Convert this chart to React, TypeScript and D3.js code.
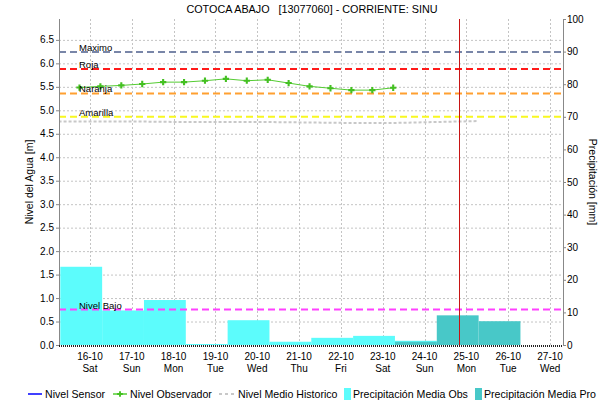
import React, { useRef, useEffect } from "react";
import * as d3 from "d3";

const titulo = "COTOCA ABAJO   [13077060] - CORRIENTE: SINU";

// eje de tiempo
const inicio = "15-10-2021 06:15";
const fin = "27-10-2021 07:25";
const dias = ["16-10-2021", "17-10-2021", "18-10-2021", "19-10-2021", "20-10-2021", "21-10-2021",
	"22-10-2021", "23-10-2021", "24-10-2021", "25-10-2021", "26-10-2021", "27-10-2021"];
const diasSemana = ["Sat", "Sun", "Mon", "Tue", "Wed", "Thu", "Fri", "Sat", "Sun", "Mon", "Tue", "Wed"];
const ahora = "24-10-2021 20:00";

// precipitacion [mm]
const precipObsDias = ["16-10-2021", "17-10-2021", "18-10-2021", "19-10-2021", "20-10-2021",
	"21-10-2021", "22-10-2021", "23-10-2021", "24-10-2021"];
const precipObs = [24.0, 10.6, 13.8, 0.3, 7.6, 1.0, 2.2, 2.8, 1.3];
const precipProDias = ["24-10-2021", "25-10-2021", "26-10-2021"];
const precipPro = [1.0, 9.1, 7.3];

// nivel observador [m]
const obsHoras = ["15-10-2021 18:00", "16-10-2021 06:00", "16-10-2021 18:00", "17-10-2021 06:00",
	"17-10-2021 18:00", "18-10-2021 06:00", "18-10-2021 18:00", "19-10-2021 06:00",
	"19-10-2021 18:00", "20-10-2021 06:00", "20-10-2021 18:00", "21-10-2021 06:00",
	"21-10-2021 18:00", "22-10-2021 06:00", "22-10-2021 18:00", "23-10-2021 06:00"];
const nivelObs = [5.485, 5.51, 5.53, 5.56, 5.6, 5.6, 5.63, 5.67, 5.63, 5.65, 5.58, 5.51, 5.47, 5.43, 5.43, 5.48];

// nivel medio historico [m]
const histHoras = ["15-10-2021 06:00", "16-10-2021 06:00", "17-10-2021 06:00", "18-10-2021 06:00",
	"19-10-2021 06:00", "20-10-2021 06:00", "21-10-2021 06:00", "22-10-2021 06:00",
	"23-10-2021 06:00", "24-10-2021 06:00", "25-10-2021 06:00"];
const nivelHist = [4.76, 4.76, 4.76, 4.75, 4.75, 4.75, 4.74, 4.73, 4.73, 4.75, 4.77];

// umbrales [m]
const umbralNombres = ["Maximo", "Roja", "Naranja", "Amarilla", "Nivel Bajo"];
const umbralValores = [6.24, 5.88, 5.36, 4.865, 0.755];

const leyenda = ["Nivel Sensor", "Nivel Observador", "Nivel Medio Historico", "Precipitación Media Obs", "Precipitación Media Pro"];

const Hidrograma = () => {
	const chartRef = useRef<SVGSVGElement>(null);

	useEffect(() => {
		const width = 616;
		const height = 404;
		const margin = { top: 19, right: 53, bottom: 59, left: 59 };
		const font = "'Liberation Sans', Arial, sans-serif";
		const colUmbral = ["#7986a8", "#ff1a1a", "#ffa030", "#f8f820", "#ff40ff"];

		const svg = d3.select(chartRef.current);
		svg.selectAll("*").remove();
		svg.attr("width", width).attr("height", height).style("font-family", font);

		const parse = d3.timeParse("%d-%m-%Y %H:%M");
		const parseDia = d3.timeParse("%d-%m-%Y");

		const x = d3.scaleTime()
			.domain([parse(inicio)!, parse(fin)!])
			.range([margin.left, width - margin.right]);
		const yNivel = d3.scaleLinear().domain([0, 6.945]).range([height - margin.bottom, margin.top]);
		const yPrecip = d3.scaleLinear().domain([0, 100]).range([height - margin.bottom, margin.top]);

		const x0 = margin.left, x1 = width - margin.right;
		const y0 = height - margin.bottom, y1 = margin.top;

		svg.append("rect").attr("width", width).attr("height", height).attr("fill", "#fff");

		svg.append("defs").append("clipPath").attr("id", "plot")
			.append("rect").attr("x", x0).attr("y", y1).attr("width", x1 - x0).attr("height", y0 - y1);

		// titulo
		svg.append("text")
			.attr("x", width / 2 + 4).attr("y", 13)
			.attr("text-anchor", "middle")
			.attr("font-size", 10.8)
			.style("white-space", "pre")
			.text(titulo);

		// grilla
		const grid = svg.append("g").attr("stroke", "#c4c4c4").attr("stroke-dasharray", "2,2");
		grid.selectAll("line.h")
			.data(yNivel.ticks(14).filter(d => d > 0))
			.enter().append("line")
			.attr("x1", x0).attr("x2", x1)
			.attr("y1", d => yNivel(d) + 0.5).attr("y2", d => yNivel(d) + 0.5);
		grid.selectAll("line.v")
			.data(dias.map(d => parseDia(d)!))
			.enter().append("line")
			.attr("x1", d => Math.round(x(d)) + 0.5).attr("x2", d => Math.round(x(d)) + 0.5)
			.attr("y1", y1).attr("y2", y0);

		const plot = svg.append("g").attr("clip-path", "url(#plot)");

		// barras de precipitacion (acumulado 07:00 - 07:00)
		const barra = (dia: string) => {
			const d = parseDia(dia)!;
			return [x(d3.timeHour.offset(d, -17)), x(d3.timeHour.offset(d, 7))];
		};
		plot.selectAll(".obs")
			.data(precipObs)
			.enter().append("rect")
			.attr("class", "obs")
			.attr("x", (d, i) => barra(precipObsDias[i])[0])
			.attr("width", (d, i) => barra(precipObsDias[i])[1] - barra(precipObsDias[i])[0])
			.attr("y", d => yPrecip(d))
			.attr("height", d => y0 - yPrecip(d))
			.attr("fill", "#5cfcfc");
		plot.selectAll(".pro")
			.data(precipPro)
			.enter().append("rect")
			.attr("class", "pro")
			.attr("x", (d, i) => barra(precipProDias[i])[0])
			.attr("width", (d, i) => barra(precipProDias[i])[1] - barra(precipProDias[i])[0])
			.attr("y", d => yPrecip(d))
			.attr("height", d => y0 - yPrecip(d))
			.attr("fill", "#48c8c8");

		// nivel medio historico
		const linea = d3.line<number>()
			.x((d, i) => x(parse(histHoras[i])!))
			.y(d => yNivel(d));
		plot.append("path")
			.attr("d", linea(nivelHist))
			.attr("fill", "none")
			.attr("stroke", "#c8c8c8")
			.attr("stroke-width", 2)
			.attr("stroke-dasharray", "3,2");

		// umbrales
		umbralValores.forEach((v, i) => {
			plot.append("line")
				.attr("x1", x0).attr("x2", x1)
				.attr("y1", yNivel(v)).attr("y2", yNivel(v))
				.attr("stroke", colUmbral[i])
				.attr("stroke-width", 2)
				.attr("stroke-dasharray", "7,4");
			svg.append("text")
				.attr("x", 79).attr("y", yNivel(v) - 1)
				.attr("font-size", 9.5)
				.text(umbralNombres[i]);
		});

		// nivel observador
		const lineaObs = d3.line<number>()
			.x((d, i) => x(parse(obsHoras[i])!))
			.y(d => yNivel(d));
		plot.append("path")
			.attr("d", lineaObs(nivelObs))
			.attr("fill", "none")
			.attr("stroke", "#55cc33")
			.attr("stroke-width", 1);
		plot.selectAll(".pto")
			.data(nivelObs)
			.enter().append("path")
			.attr("class", "pto")
			.attr("transform", (d, i) => `translate(${x(parse(obsHoras[i])!)},${yNivel(d)})`)
			.attr("d", d3.symbol(d3.symbolCross, 22)())
			.attr("fill", "#44c022");

		// hora actual
		svg.append("line")
			.attr("x1", Math.round(x(parse(ahora)!)) + 0.5).attr("x2", Math.round(x(parse(ahora)!)) + 0.5)
			.attr("y1", y1).attr("y2", y0)
			.attr("stroke", "#c81414")
			.attr("stroke-width", 1);

		// ejes
		svg.append("line")
			.attr("x1", x0 + 0.5).attr("x2", x0 + 0.5).attr("y1", y1).attr("y2", y0 + 1)
			.attr("stroke", "#888");
		svg.append("line")
			.attr("x1", x1 + 0.5).attr("x2", x1 + 0.5).attr("y1", y1).attr("y2", y0 + 1)
			.attr("stroke", "#888");
		svg.append("line")
			.attr("x1", x0).attr("x2", x1).attr("y1", y0 + 1).attr("y2", y0 + 1)
			.attr("stroke", "#222").attr("stroke-width", 2).attr("stroke-dasharray", "1,1");

		const ejeIzq = svg.append("g");
		yNivel.ticks(14).forEach(t => {
			ejeIzq.append("line")
				.attr("x1", x0 - 3).attr("x2", x0).attr("y1", yNivel(t) + 0.5).attr("y2", yNivel(t) + 0.5)
				.attr("stroke", "#888");
			ejeIzq.append("text")
				.attr("x", x0 - 5).attr("y", yNivel(t) + 3.5)
				.attr("text-anchor", "end")
				.attr("font-size", 10)
				.text(d3.format(".1f")(t));
		});

		const ejeDer = svg.append("g");
		yPrecip.ticks(10).forEach(t => {
			ejeDer.append("line")
				.attr("x1", x1).attr("x2", x1 + 3).attr("y1", yPrecip(t) + 0.5).attr("y2", yPrecip(t) + 0.5)
				.attr("stroke", "#888");
			ejeDer.append("text")
				.attr("x", x1 + 4).attr("y", yPrecip(t) + 3.5)
				.attr("font-size", 10)
				.text(t);
		});

		const ejeX = svg.append("g").attr("text-anchor", "middle").attr("font-size", 10);
		dias.forEach((d, i) => {
			const px = x(parseDia(d)!);
			ejeX.append("text").attr("x", px).attr("y", y0 + 15).text(d.slice(0, 5));
			ejeX.append("text").attr("x", px).attr("y", y0 + 27).text(diasSemana[i]);
		});

		// titulos de ejes
		const cy = (y0 + y1) / 2;
		svg.append("text")
			.attr("transform", `translate(33,${cy}) rotate(-90)`)
			.attr("text-anchor", "middle")
			.attr("font-size", 10.5)
			.text("Nivel del Agua [m]");
		svg.append("text")
			.attr("transform", `translate(589,${cy}) rotate(90)`)
			.attr("text-anchor", "middle")
			.attr("font-size", 10.5)
			.text("Precipitación [mm]");

		// leyenda
		const ly = 394;
		const ley = svg.append("g").attr("font-size", 10.6);
		ley.append("line").attr("x1", 28).attr("x2", 42).attr("y1", ly).attr("y2", ly).attr("stroke", "#0000ff").attr("stroke-width", 1.5);
		ley.append("line").attr("x1", 113).attr("x2", 127).attr("y1", ly).attr("y2", ly).attr("stroke", "#55cc33").attr("stroke-width", 1.5);
		ley.append("path").attr("transform", `translate(120,${ly})`).attr("d", d3.symbol(d3.symbolCross, 18)()).attr("fill", "#44c022");
		ley.append("line").attr("x1", 219).attr("x2", 235).attr("y1", ly).attr("y2", ly).attr("stroke", "#c8c8c8").attr("stroke-width", 2).attr("stroke-dasharray", "3,3");
		ley.append("rect").attr("x", 344).attr("y", ly - 6).attr("width", 7).attr("height", 12).attr("fill", "#5cfcfc");
		ley.append("rect").attr("x", 475).attr("y", ly - 6).attr("width", 7).attr("height", 12).attr("fill", "#48c8c8");
		const lx = [45, 130, 238, 353, 484];
		leyenda.forEach((t, i) => {
			ley.append("text").attr("x", lx[i]).attr("y", ly + 4).text(t);
		});
	}, []);

	return <svg ref={chartRef} style={{ position: "absolute", left: 0, top: 0, display: "block" }}></svg>;
};

export default function App() {
	return <Hidrograma />;
}
